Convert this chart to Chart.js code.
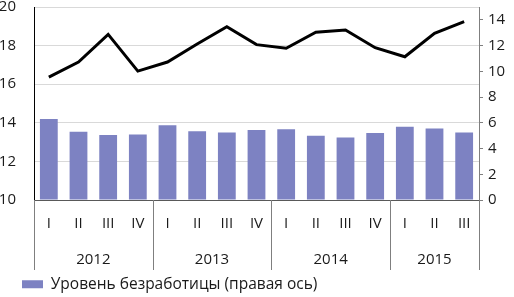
<!DOCTYPE html>
<html lang="ru">
<head>
    <meta charset="UTF-8">
    <title>Уровень безработицы</title>
    <script src="https://cdn.jsdelivr.net/npm/chart.js"></script>
    <style>
        html, body {
            margin: 0;
            padding: 0;
            background: #fff;
        }
        .chart-container {
            width: 514px;
            height: 297px;
        }
    </style>
</head>
<body>
    <div class="chart-container">
        <canvas id="chart"></canvas>
    </div>

    <script>
        // Data
        const quarters = ['I', 'II', 'III', 'IV', 'I', 'II', 'III', 'IV', 'I', 'II', 'III', 'IV', 'I', 'II', 'III'];
        const years = ['2012', '2013', '2014', '2015'];
        const quartersPerYear = [4, 4, 4, 3];
        const lineValues = [16.37, 17.15, 18.58, 16.68, 17.15, 18.08, 18.98, 18.05, 17.86, 18.69, 18.81, 17.89, 17.42, 18.64, 19.24];
        const unemployment = [6.3, 5.3, 5.05, 5.1, 5.8, 5.35, 5.25, 5.45, 5.5, 5.0, 4.85, 5.2, 5.7, 5.55, 5.25];
        const rightTicks = [0, 2, 4, 6, 8, 10, 12, 14];
        const barLabel = 'Уровень безработицы (правая ось)';

        const FONT = '"Open Sans", sans-serif';
        const TEXT = '#1a1a1a';

        // year row under the quarter labels, with separators between years
        const yearGroups = {
            id: 'yearGroups',
            afterLayout(chart) {
                // nudge the legend item right and down, like the original
                const lg = chart.legend;
                lg.left += 20;
                lg.right += 20;
                lg.top += 5;
                lg.bottom += 5;
            },
            afterDraw(chart) {
                const x = chart.scales.x;
                const ctx = chart.ctx;
                const step = x.width / quarters.length;
                ctx.save();
                ctx.strokeStyle = '#7f7f7f';
                ctx.lineWidth = 1;
                let start = 0;
                const edges = [0];
                quartersPerYear.forEach(n => { start += n; edges.push(start); });
                edges.forEach(i => {
                    const px = Math.round(x.left + i * step) + 0.5;
                    ctx.beginPath();
                    ctx.moveTo(px, x.top);
                    ctx.lineTo(px, 270);
                    ctx.stroke();
                });
                ctx.fillStyle = TEXT;
                ctx.font = '15px ' + FONT;
                ctx.textAlign = 'center';
                ctx.textBaseline = 'middle';
                years.forEach((y, k) => {
                    const mid = x.left + (edges[k] + edges[k + 1]) / 2 * step;
                    ctx.fillText(y, mid, 260);
                });
                ctx.restore();
            }
        };

        new Chart(document.getElementById('chart'), {
            data: {
                labels: quarters,
                datasets: [
                    {
                        type: 'line',
                        label: 'line',
                        data: lineValues,
                        yAxisID: 'y',
                        borderColor: '#000',
                        borderWidth: 3,
                        pointRadius: 0,
                        tension: 0,
                        fill: false,
                        order: 0
                    },
                    {
                        type: 'bar',
                        label: barLabel,
                        data: unemployment,
                        yAxisID: 'y1',
                        backgroundColor: '#7d82c2',
                        barPercentage: 0.6,
                        categoryPercentage: 1,
                        order: 1
                    }
                ]
            },
            options: {
                responsive: true,
                maintainAspectRatio: false,
                animation: false,
                layout: { padding: 0 },
                plugins: {
                    tooltip: { enabled: false },
                    legend: {
                        position: 'bottom',
                        align: 'start',
                        labels: {
                            filter: item => item.datasetIndex === 1,
                            boxWidth: 21,
                            boxHeight: 8,
                            padding: 2,
                            color: TEXT,
                            font: { family: FONT, size: 15.5 }
                        }
                    }
                },
                scales: {
                    x: {
                        offset: true,
                        grid: { display: false },
                        border: { display: true, color: '#595959', width: 1 },
                        ticks: {
                            color: TEXT,
                            font: { family: FONT, size: 15 },
                            maxRotation: 0,
                            autoSkip: false,
                            padding: 7
                        },
                        afterFit: s => { s.height = 69.5; }
                    },
                    y: {
                        position: 'left',
                        min: 10,
                        max: 20,
                        ticks: {
                            stepSize: 2,
                            color: TEXT,
                            font: { family: FONT, size: 15, lineHeight: 0.4 },
                            padding: 4
                        },
                        // invisible outer ticks keep the labels away from the axis
                        grid: { color: '#d9d9d9', tickLength: 14, tickColor: 'rgba(0,0,0,0)' },
                        border: { display: true, color: '#000', width: 1 },
                        afterFit: s => { s.width = 34; }
                    },
                    y1: {
                        position: 'right',
                        min: 0,
                        max: 15,
                        ticks: {
                            color: TEXT,
                            font: { family: FONT, size: 15, lineHeight: 0.2 },
                            padding: 5
                        },
                        afterBuildTicks: s => { s.ticks = rightTicks.map(v => ({ value: v })); },
                        grid: { drawOnChartArea: false, tickLength: 4, color: '#7f7f7f' },
                        border: { display: true, color: '#7f7f7f', width: 1 },
                        afterFit: s => { s.width = 35; }
                    }
                }
            },
            plugins: [yearGroups]
        });
    </script>
</body>
</html>
